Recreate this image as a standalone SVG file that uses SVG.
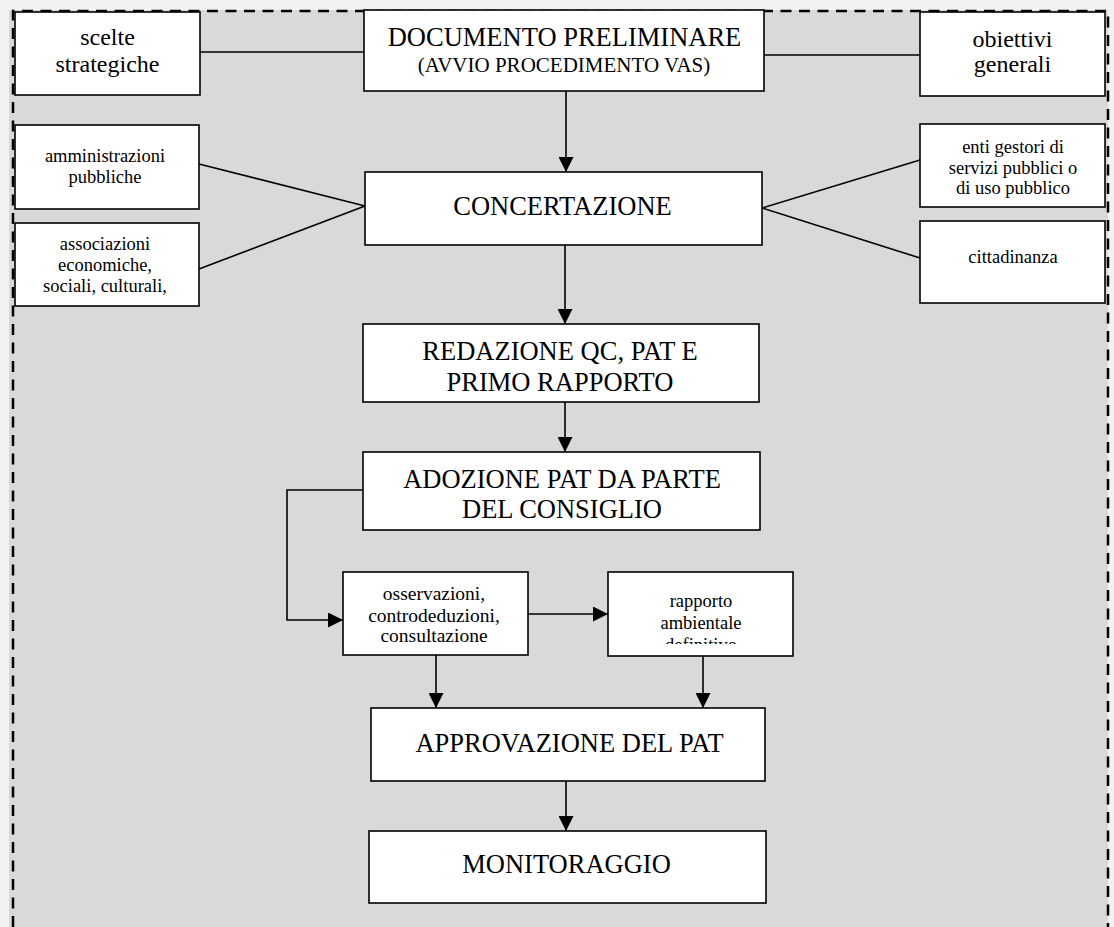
<svg xmlns="http://www.w3.org/2000/svg" width="1114" height="927" viewBox="0 0 1114 927">
<style>
  .box { fill: #ffffff; stroke: #000000; stroke-width: 1.6; }
  .t { font-family: "Liberation Serif", "Times New Roman", serif; fill: #000000; text-anchor: middle; }
  .big { font-size: 26.5px; }
  .mid { font-size: 24px; }
  .sm { font-size: 18.5px; }
  .sm2 { font-size: 19.5px; }
  .par { font-size: 21px; }
  .ln { fill: none; stroke: #000000; stroke-width: 1.6; }
  .arr { fill: none; stroke: #000000; stroke-width: 1.6; marker-end: url(#ah); }
</style>
<defs>
  <marker id="ah" viewBox="0 0 15 15" refX="15" refY="7.5" markerWidth="15" markerHeight="15" markerUnits="userSpaceOnUse" orient="auto">
    <path d="M0,0 L15,7.5 L0,15 z" fill="#000000"/>
  </marker>
  <clipPath id="clipRapporto">
    <rect x="610" y="574" width="181" height="70"/>
  </clipPath>
</defs>

<rect x="0" y="0" width="1114" height="927" fill="#f2f2f2"/>
<g id="frame">
  <rect x="9" y="10" width="1099" height="917" fill="#d9d9d9"/>
  <path d="M13,927 L13,11 L1108,11 L1108,927" fill="none" stroke="#000000" stroke-width="2.5" stroke-dasharray="11,7.5"/>
</g>

<g id="connectors">
  <line class="ln" x1="200" y1="52" x2="364" y2="52"/>
  <line class="ln" x1="764" y1="55" x2="920" y2="55"/>
  <line class="arr" x1="566" y1="91" x2="566" y2="172"/>
  <line class="ln" x1="199" y1="164" x2="365" y2="206"/>
  <line class="ln" x1="199" y1="269" x2="365" y2="206"/>
  <line class="ln" x1="762" y1="208" x2="920" y2="160"/>
  <line class="ln" x1="762" y1="208" x2="920" y2="258"/>
  <line class="arr" x1="565" y1="245" x2="565" y2="324"/>
  <line class="arr" x1="565" y1="402" x2="565" y2="452"/>
  <polyline class="arr" points="363,490 287,490 287,620 343,620"/>
  <line class="arr" x1="528" y1="614" x2="608" y2="614"/>
  <line class="arr" x1="436" y1="655" x2="436" y2="708"/>
  <line class="arr" x1="703" y1="656" x2="703" y2="708"/>
  <line class="arr" x1="566" y1="781" x2="566" y2="831"/>
</g>

<g id="scelte">
  <rect class="box" x="15" y="12" width="185" height="83"/>
  <text class="t mid" x="107.5" y="45">scelte</text>
  <text class="t mid" x="107.5" y="72">strategiche</text>
</g>

<g id="documento">
  <rect class="box" x="364" y="10" width="400" height="81"/>
  <text class="t big" x="564.5" y="46">DOCUMENTO PRELIMINARE</text>
  <text class="t par" x="564" y="72">(AVVIO PROCEDIMENTO VAS)</text>
</g>

<g id="obiettivi">
  <rect class="box" x="920" y="12" width="185" height="84"/>
  <text class="t mid" x="1012.5" y="47">obiettivi</text>
  <text class="t mid" x="1012.5" y="72">generali</text>
</g>

<g id="amministrazioni">
  <rect class="box" x="15" y="125" width="184" height="84"/>
  <text class="t sm" x="105" y="162">amministrazioni</text>
  <text class="t sm" x="105" y="183">pubbliche</text>
</g>

<g id="associazioni">
  <rect class="box" x="15" y="223" width="184" height="83"/>
  <text class="t sm" x="105" y="250">associazioni</text>
  <text class="t sm" x="105" y="271">economiche,</text>
  <text class="t sm" x="105" y="292">sociali, culturali,</text>
</g>

<g id="concertazione">
  <rect class="box" x="365" y="172" width="397" height="73"/>
  <text class="t big" x="562.5" y="215">CONCERTAZIONE</text>
</g>

<g id="enti">
  <rect class="box" x="920" y="124" width="185" height="83"/>
  <text class="t sm" x="1013" y="153">enti gestori di</text>
  <text class="t sm" x="1013" y="174">servizi pubblici o</text>
  <text class="t sm" x="1013" y="194">di uso pubblico</text>
</g>

<g id="cittadinanza">
  <rect class="box" x="920" y="221" width="185" height="82"/>
  <text class="t sm" x="1013" y="263">cittadinanza</text>
</g>

<g id="redazione">
  <rect class="box" x="363" y="324" width="396" height="78"/>
  <text class="t big" x="560" y="360">REDAZIONE QC, PAT E</text>
  <text class="t big" x="560" y="391">PRIMO RAPPORTO</text>
</g>

<g id="adozione">
  <rect class="box" x="363" y="452" width="397" height="78"/>
  <text class="t big" x="562" y="488">ADOZIONE PAT DA PARTE</text>
  <text class="t big" x="562" y="518">DEL CONSIGLIO</text>
</g>

<g id="osservazioni">
  <rect class="box" x="343" y="572" width="185" height="83"/>
  <text class="t sm2" x="434" y="600">osservazioni,</text>
  <text class="t sm2" x="434" y="622">controdeduzioni,</text>
  <text class="t sm2" x="434" y="642">consultazione</text>
</g>

<g id="rapporto">
  <rect class="box" x="608" y="572" width="185" height="84"/>
  <g clip-path="url(#clipRapporto)">
    <text class="t sm" x="701" y="607">rapporto</text>
    <text class="t sm" x="701" y="629">ambientale</text>
    <text class="t sm" x="701" y="651">definitivo</text>
  </g>
</g>

<g id="approvazione">
  <rect class="box" x="371" y="708" width="394" height="73"/>
  <text class="t big" x="569.5" y="752">APPROVAZIONE DEL PAT</text>
</g>

<g id="monitoraggio">
  <rect class="box" x="369" y="831" width="397" height="72"/>
  <text class="t big" x="566.5" y="873">MONITORAGGIO</text>
</g>
</svg>
